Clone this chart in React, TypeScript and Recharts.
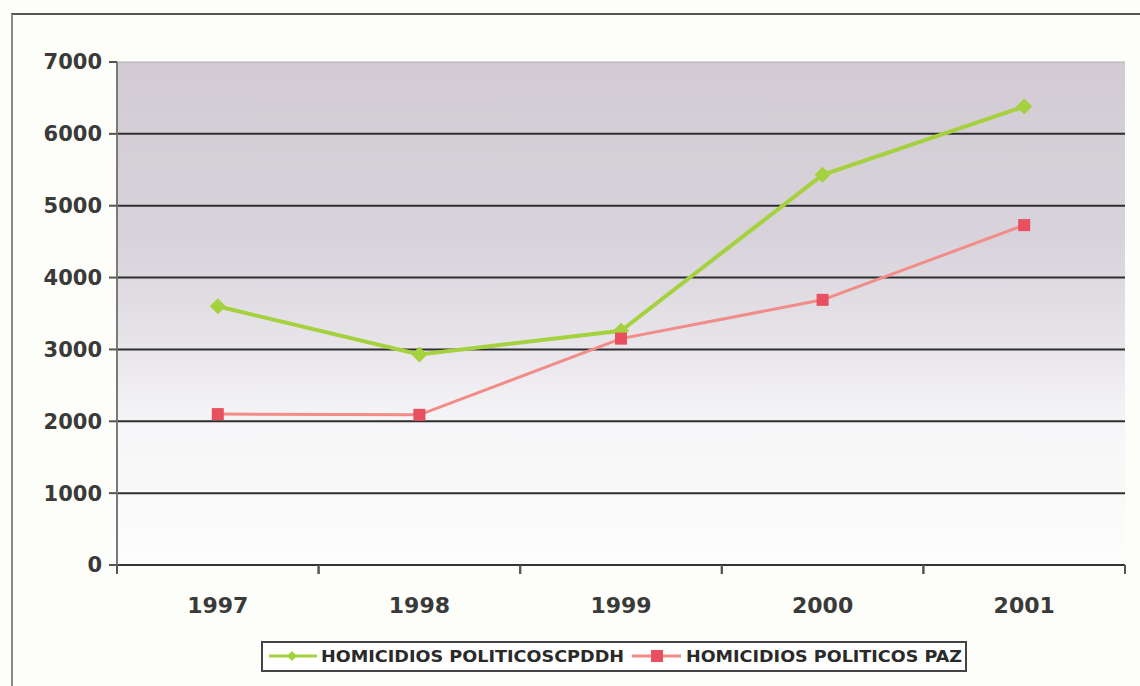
import { LineChart, Line, XAxis, YAxis, CartesianGrid, ReferenceLine, Legend } from 'recharts'

const YEARS = ['1997', '1998', '1999', '2000', '2001']
const CPDDH = [3600, 2930, 3260, 5430, 6380]
const PAZ = [2100, 2090, 3150, 3690, 4730]
const Y_TICKS = [0, 1000, 2000, 3000, 4000, 5000, 6000, 7000]
const GRID_VALUES = [1000, 2000, 3000, 4000, 5000, 6000]

const NAME_A = 'HOMICIDIOS POLITICOSCPDDH'
const NAME_B = 'HOMICIDIOS POLITICOS PAZ'
const GREEN = '#a6d13e'
const RED_LINE = '#f28c88'
const RED_DOT = '#e9505f'

const data = YEARS.map((y, i) => ({ year: y, a: CPDDH[i], b: PAZ[i] }))

const FONT = "'DejaVu Sans', Verdana, sans-serif"
const yTickStyle = { fontSize: 21, fontWeight: 700, fill: '#3a3a3a', fontFamily: FONT }

// Excel-style category ticks: marks sit on the band edges, label in the middle.
function YearTick(props: { x?: number; y?: number; payload?: { value: string; offset?: number } }) {
  const { x = 0, y = 0, payload } = props
  const half = payload?.offset ?? 0
  return (
    <g>
      <line x1={x - half} y1={y} x2={x - half} y2={y + 9} stroke="#555" strokeWidth={2} />
      <line x1={x + half} y1={y} x2={x + half} y2={y + 9} stroke="#555" strokeWidth={2} />
      <text x={x} y={y + 48} textAnchor="middle" fontSize={22} fontWeight={700} fill="#3a3a3a" fontFamily={FONT}>
        {payload?.value}
      </text>
    </g>
  )
}

function Diamond(props: { cx?: number; cy?: number }) {
  const { cx, cy } = props
  if (cx == null || cy == null) return <g />
  const r = 8
  return <path d={`M${cx},${cy - r}L${cx + r},${cy}L${cx},${cy + r}L${cx - r},${cy}Z`} fill={GREEN} />
}

function Square(props: { cx?: number; cy?: number }) {
  const { cx, cy } = props
  if (cx == null || cy == null) return <g />
  return <rect x={cx - 6} y={cy - 6} width={12} height={12} fill={RED_DOT} />
}

// legend drawn in its own svg so the condensed label widths can be pinned with textLength
function LegendBox() {
  const label = { fontFamily: FONT, fontWeight: 700, fontSize: 16, fill: '#2a2a2a' }
  return (
    <svg width={706} height={31} style={{ display: 'block' }}>
      <rect x={1} y={1} width={704} height={29} fill="#fff" stroke="#444" strokeWidth={2} />
      <line x1={8} y1={15} x2={56} y2={15} stroke={GREEN} strokeWidth={3} />
      <path d="M31,10L36,15L31,20L26,15Z" fill={GREEN} />
      <text x={60} y={21} textLength={303} lengthAdjust="spacingAndGlyphs" style={label}>{NAME_A}</text>
      <line x1={371} y1={15} x2={420} y2={15} stroke={RED_LINE} strokeWidth={3} />
      <rect x={390} y={9} width={12} height={12} fill={RED_DOT} />
      <text x={425} y={21} textLength={276} lengthAdjust="spacingAndGlyphs" style={label}>{NAME_B}</text>
    </svg>
  )
}

export default function App() {
  return (
    <div style={{ position: 'fixed', left: 0, top: 0, width: 1140, height: 686, background: '#fdfdf9', overflow: 'hidden' }}>
      <div style={{ position: 'absolute', left: 11, top: 13, width: 1160, height: 700, border: '2px solid #8a8a8a', borderTopColor: '#555' }} />
      <div style={{ position: 'absolute', left: 0, top: 0 }}>
        <LineChart width={1140} height={686} data={data} margin={{ top: 62, right: 15, bottom: 30, left: 0 }}>
          <defs>
            <linearGradient id="bg" x1="0" y1="0" x2="0" y2="1">
              <stop offset="0" stopColor="#d2cbd3" />
              <stop offset="0.35" stopColor="#d8d3da" />
              <stop offset="0.55" stopColor="#e6e3e9" />
              <stop offset="0.72" stopColor="#f6f5f7" />
              <stop offset="1" stopColor="#fdfdfd" />
            </linearGradient>
          </defs>
          <CartesianGrid fill="url(#bg)" stroke="#2e2e2e" strokeWidth={2} vertical={false}
            horizontalValues={GRID_VALUES} />
          <XAxis dataKey="year" scale="band" tick={<YearTick />} tickLine={false} tickSize={0} tickMargin={0} height={60}
            interval={0} axisLine={{ stroke: '#333', strokeWidth: 2 }} />
          <YAxis domain={[0, 7000]} ticks={Y_TICKS} width={117} tick={yTickStyle} tickSize={8} tickMargin={7}
            axisLine={{ stroke: '#7a7a7a', strokeWidth: 2 }} tickLine={{ stroke: '#555', strokeWidth: 2 }} />
          <YAxis yAxisId="r" orientation="right" domain={[0, 7000]} width={0} tick={false} tickLine={false}
            axisLine={{ stroke: '#9a9a9a', strokeWidth: 2 }} />
          <ReferenceLine y={7000} stroke="#b0adb2" strokeWidth={1} />
          <Line dataKey="a" name={NAME_A} stroke={GREEN} strokeWidth={4} dot={<Diamond />} activeDot={false} isAnimationActive={false} />
          <Line dataKey="b" name={NAME_B} stroke={RED_LINE} strokeWidth={3} dot={<Square />} activeDot={false} isAnimationActive={false} />
          <Legend verticalAlign="bottom" content={() => <LegendBox />}
            wrapperStyle={{ position: 'absolute', left: 261, top: 641, width: 706, bottom: 'auto' }} />
        </LineChart>
      </div>
    </div>
  )
}
